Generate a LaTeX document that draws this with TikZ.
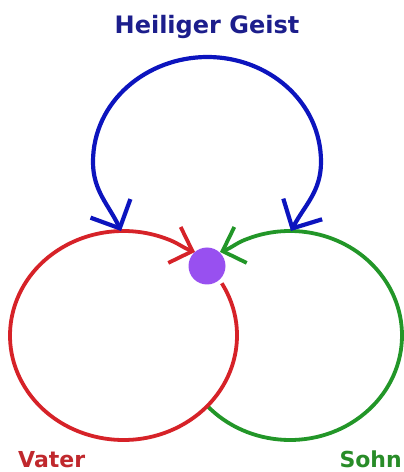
\documentclass[tikz,border=0pt]{standalone}
\usepackage{fontspec}
\setmainfont{DejaVu Sans}
\usepackage{xcolor}
\usepackage{tikz}
\usetikzlibrary{arrows.meta,positioning,calc}

\definecolor{rotV}{RGB}{214,34,40}
\definecolor{gruenS}{RGB}{34,150,40}
\definecolor{blauG}{RGB}{12,20,190}
\definecolor{textblau}{RGB}{28,30,140}
\definecolor{textrot}{RGB}{192,40,45}
\definecolor{textgruen}{RGB}{40,140,40}
\definecolor{lila}{RGB}{152,80,240}

\begin{document}
\begin{tikzpicture}[
    x=1pt, y=1pt,
    label/.style={inner sep=0pt, font=\bfseries},
    ring/.style={line width=3.8pt},
    smallarr/.style={-{Straight Barb[length=19pt, width=38pt]}},
    bigarr/.style={{Straight Barb[length=22pt, width=44pt]}-{Straight Barb[length=22pt, width=44pt]}, line width=4.2pt},
]
\useasboundingbox (0,0) rectangle (404,472);

% Centres of the two circles
\coordinate (cV) at (123.5,136.5);
\coordinate (cS) at (290,136.5);

% Tips at the meeting point
\coordinate (tipV) at (195,220);
\coordinate (tipS) at (220,220);

% Top arc: ends and turning points
\coordinate (tipGL) at (121,241);
\coordinate (tipGR) at (291,241);
\coordinate (gL) at (93,310);
\coordinate (gT) at (207.5,415);
\coordinate (gR) at (321,310);

% Labels
\node[label, font=\fontsize{24}{28}\selectfont\bfseries, text=textblau, anchor=base] (geist) at (207,438) {Heiliger Geist};
\node[label, font=\fontsize{22}{26}\selectfont\bfseries, text=textrot, anchor=base west] (vater) at (18,5) {Vater};
\node[label, font=\fontsize{22}{26}\selectfont\bfseries, text=textgruen, anchor=base east] (sohn) at (402,5) {Sohn};

% Sohn: green ring, open inside the red one
\draw[ring, gruenS, smallarr] ($(cS)+(-138:112 and 104.5)$) arc[start angle=-138, end angle=112, x radius=112, y radius=104.5] to[out=199, in=19] (tipS);

% Vater: red ring
\draw[ring, rotV, smallarr] ($(cV)+(30:113.5 and 104.5)$) arc[start angle=390, end angle=68, x radius=113.5, y radius=104.5] to[out=-19, in=161] (tipV);

% meeting point
\node[circle, fill=lila, minimum size=37pt, inner sep=0pt] (dot) at (207,206) {};

% Heiliger Geist: arc over the top
\draw[bigarr, blauG] (tipGL) to[out=115, in=270] (gL) to[out=90, in=180] (gT) to[out=0, in=90] (gR) to[out=270, in=62] (tipGR);
\end{tikzpicture}
\end{document}
